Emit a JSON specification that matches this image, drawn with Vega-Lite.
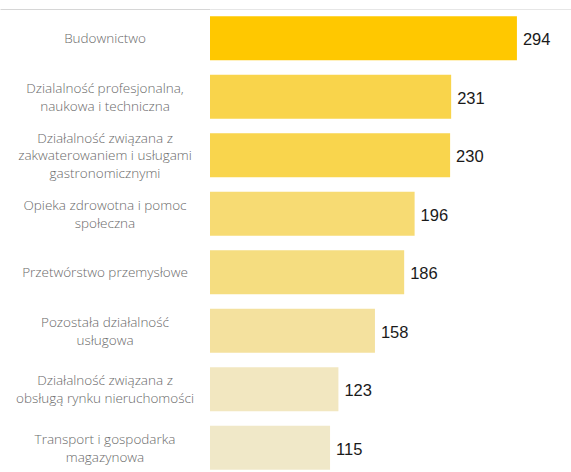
{
  "$schema": "https://vega.github.io/schema/vega-lite/v6.json",
  "autosize": {"type": "pad"},
  "padding": {"top": 9, "left": 0, "right": 0, "bottom": 0},
  "background": "white",
  "spacing": 0,
  "config": {"view": {"stroke": null}, "concat": {"spacing": 0}},
  "data": {"values": [
    {"kategoria": "Budownictwo", "etykieta": "Budownictwo", "liczba": 294},
    {"kategoria": "Działalność profesjonalna, naukowa i techniczna", "etykieta": "Dzialalność profesjonalna,\nnaukowa i techniczna", "liczba": 231},
    {"kategoria": "Działalność związana z zakwaterowaniem i usługami gastronomicznymi", "etykieta": "Działalność związana z\nzakwaterowaniem i usługami\ngastronomicznymi", "liczba": 230},
    {"kategoria": "Opieka zdrowotna i pomoc społeczna", "etykieta": "Opieka zdrowotna i pomoc\nspołeczna", "liczba": 196},
    {"kategoria": "Przetwórstwo przemysłowe", "etykieta": "Przetwórstwo przemysłowe", "liczba": 186},
    {"kategoria": "Pozostała działalność usługowa", "etykieta": "Pozostała działalność\nusługowa", "liczba": 158},
    {"kategoria": "Działalność związana z obsługą rynku nieruchomości", "etykieta": "Działalność związana z\nobsługą rynku nieruchomości", "liczba": 123},
    {"kategoria": "Transport i gospodarka magazynowa", "etykieta": "Transport i gospodarka\nmagazynowa", "liczba": 115}
  ]},
  "hconcat": [
    {
      "width": 210,
      "height": 468,
      "encoding": {
        "y": {"field": "kategoria", "type": "nominal", "sort": null, "axis": null, "scale": {"paddingInner": 0.25, "paddingOuter": 0.125,
          "domain": ["Budownictwo", "Działalność profesjonalna, naukowa i techniczna", "Działalność związana z zakwaterowaniem i usługami gastronomicznymi", "Opieka zdrowotna i pomoc społeczna", "Przetwórstwo przemysłowe", "Pozostała działalność usługowa", "Działalność związana z obsługą rynku nieruchomości", "Transport i gospodarka magazynowa"]}},
        "x": {"datum": 0.5, "type": "quantitative", "scale": {"domain": [0, 1]}, "axis": {"orient": "top", "labels": false, "ticks": false, "grid": false, "title": null, "domainColor": "#d6d6d6", "domainWidth": 1}},
        "text": {"field": "etykieta"}
      },
      "layer": [
        {
          "transform": [{"filter": "length(split(datum.etykieta, '\\n')) == 1"}],
          "mark": {"type": "text", "align": "center", "baseline": "middle", "dy": 1, "lineBreak": "\n", "lineHeight": 18, "font": "Open Sans", "fontSize": 13.5, "fontWeight": 300, "fill": "#6a6a6a"}
        },
        {
          "transform": [{"filter": "length(split(datum.etykieta, '\\n')) == 2"}],
          "mark": {"type": "text", "align": "center", "baseline": "middle", "dy": -8, "lineBreak": "\n", "lineHeight": 18, "font": "Open Sans", "fontSize": 13.5, "fontWeight": 300, "fill": "#6a6a6a"}
        },
        {
          "transform": [{"filter": "length(split(datum.etykieta, '\\n')) == 3"}],
          "mark": {"type": "text", "align": "center", "baseline": "middle", "dy": -16.5, "lineBreak": "\n", "lineHeight": 17.5, "font": "Open Sans", "fontSize": 13.5, "fontWeight": 300, "fill": "#6a6a6a"}
        }
      ]
    },
    {
      "width": 361,
      "height": 468,
      "encoding": {
        "y": {"field": "kategoria", "type": "nominal", "sort": null, "axis": null, "scale": {"paddingInner": 0.25, "paddingOuter": 0.125,
          "domain": ["Budownictwo", "Działalność profesjonalna, naukowa i techniczna", "Działalność związana z zakwaterowaniem i usługami gastronomicznymi", "Opieka zdrowotna i pomoc społeczna", "Przetwórstwo przemysłowe", "Pozostała działalność usługowa", "Działalność związana z obsługą rynku nieruchomości", "Transport i gospodarka magazynowa"]}},
        "x": {"field": "liczba", "type": "quantitative", "scale": {"domain": [0, 345.8], "nice": false}, "axis": {"orient": "top", "labels": false, "ticks": false, "grid": false, "title": null, "domainColor": "#e6e6e6", "domainWidth": 1}}
      },
      "layer": [
        {
          "mark": {"type": "bar"},
          "encoding": {
            "color": {"field": "kategoria", "type": "nominal", "legend": null, "scale": {
              "domain": ["Budownictwo", "Działalność profesjonalna, naukowa i techniczna", "Działalność związana z zakwaterowaniem i usługami gastronomicznymi", "Opieka zdrowotna i pomoc społeczna", "Przetwórstwo przemysłowe", "Pozostała działalność usługowa", "Działalność związana z obsługą rynku nieruchomości", "Transport i gospodarka magazynowa"],
              "range": ["#FFC800", "#F9D44B", "#F9D54D", "#F7DB73", "#F5DD80", "#F4E19E", "#F2E7C0", "#F0E8C8"]}}
          }
        },
        {
          "mark": {"type": "text", "align": "left", "baseline": "middle", "dx": 6, "dy": 2, "font": "Arial", "fontSize": 16.5, "fill": "#1a1a1a"},
          "encoding": {"text": {"field": "liczba", "type": "quantitative"}}
        }
      ]
    }
  ]
}
